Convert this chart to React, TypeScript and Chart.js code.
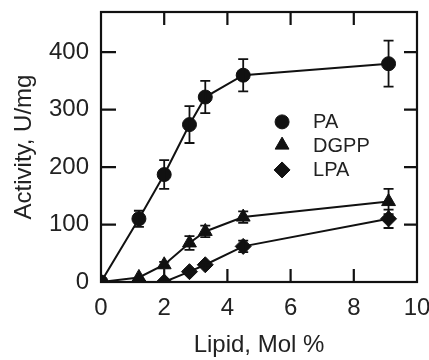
import React, { useEffect, useRef } from "react";
import { Chart, registerables } from "chart.js";
import { drawPoint } from "chart.js/helpers";

Chart.register(...registerables);

const LIPID = [0, 1.2, 2, 2.8, 3.3, 4.5, 9.1];
const PA = [0, 110, 187, 274, 322, 360, 380];
const PA_ERR = [0, 14, 25, 32, 28, 28, 40];
const DGPP = [0, 8, 30, 68, 88, 113, 140];
const DGPP_ERR = [0, 0, 5, 12, 10, 10, 22];
const LPA = [0, 0, 0, 18, 30, 62, 110];
const LPA_ERR = [0, 0, 0, 4, 4, 10, 16];
const SERIES = ["PA", "DGPP", "LPA"];
const X_TICKS = [0, 2, 4, 6, 8, 10];
const Y_TICKS = [0, 100, 200, 300, 400];

const INK = "#111111";
const FONT = "'Liberation Sans', Arial, Helvetica, sans-serif";

const errorBars = {
  id: "errorBars",
  afterDatasetsDraw(chart: any) {
    const ctx = chart.ctx;
    const xs = chart.scales.x;
    const ys = chart.scales.y;
    ctx.save();
    ctx.strokeStyle = INK;
    ctx.lineWidth = 1.8;
    chart.data.datasets.forEach((ds: any) => {
      const errs: number[] = ds.errors || [];
      ds.data.forEach((p: any, i: number) => {
        const e = errs[i];
        if (!e) return;
        const x = xs.getPixelForValue(p.x);
        const y1 = ys.getPixelForValue(p.y + e);
        const y2 = ys.getPixelForValue(p.y - e);
        ctx.beginPath();
        ctx.moveTo(x, y1);
        ctx.lineTo(x, y2);
        ctx.moveTo(x - 5, y1);
        ctx.lineTo(x + 5, y1);
        ctx.moveTo(x - 5, y2);
        ctx.lineTo(x + 5, y2);
        ctx.stroke();
      });
    });
    ctx.restore();
  },
};

const frame = {
  id: "frame",
  afterDraw(chart: any) {
    const ctx = chart.ctx;
    const { left, right, top, bottom } = chart.chartArea;
    const xs = chart.scales.x;
    const ys = chart.scales.y;
    ctx.save();
    ctx.strokeStyle = INK;
    ctx.lineWidth = 2.2;
    ctx.strokeRect(left, top, right - left, bottom - top);
    ctx.beginPath();
    X_TICKS.forEach((v) => {
      if (v === X_TICKS[0] || v === X_TICKS[X_TICKS.length - 1]) return;
      const x = xs.getPixelForValue(v);
      ctx.moveTo(x, bottom);
      ctx.lineTo(x, bottom - 13);
      ctx.moveTo(x, top);
      ctx.lineTo(x, top + 13);
    });
    Y_TICKS.forEach((v) => {
      if (v === 0) return;
      const y = ys.getPixelForValue(v);
      ctx.moveTo(left, y);
      ctx.lineTo(left + 15, y);
      ctx.moveTo(right, y);
      ctx.lineTo(right - 13, y);
    });
    ctx.stroke();
    ctx.restore();
  },
};

const innerLegend = {
  id: "innerLegend",
  afterDraw(chart: any) {
    const ctx = chart.ctx;
    const { left, right, top, bottom } = chart.chartArea;
    const w = right - left;
    const h = bottom - top;
    const mx = left + 0.573 * w;
    const tx = left + 0.671 * w;
    const rows = [0.407, 0.493, 0.585];
    ctx.save();
    chart.data.datasets.forEach((ds: any, i: number) => {
      const y = top + rows[i] * h;
      ctx.fillStyle = INK;
      ctx.strokeStyle = INK;
      ctx.lineWidth = 1;
      drawPoint(ctx, { pointStyle: ds.pointStyle, radius: ds.pointRadius, borderWidth: 1, rotation: 0 } as any, mx, y);
      ctx.fillStyle = "#222222";
      ctx.font = `20px ${FONT}`;
      ctx.textBaseline = "middle";
      ctx.textAlign = "left";
      ctx.fillText(ds.label, tx, y + 1);
    });
    ctx.restore();
  },
};

function pts(ys: number[]) {
  return LIPID.map((x, i) => ({ x, y: ys[i] }));
}

export default function App() {
  const ref = useRef<HTMLCanvasElement | null>(null);
  useEffect(() => {
    if (!ref.current) return;
    const mk = (label: string, ys: number[], errs: number[], style: string, r: number) => ({
      label,
      data: pts(ys),
      errors: errs,
      borderColor: INK,
      backgroundColor: INK,
      borderWidth: 2,
      pointStyle: style,
      pointRadius: r,
      pointBorderWidth: 1,
      pointBackgroundColor: INK,
      pointBorderColor: INK,
      tension: 0,
    });
    const chart = new Chart(ref.current, {
      type: "line",
      data: {
        datasets: [
          mk(SERIES[0], PA, PA_ERR, "circle", 7),
          mk(SERIES[1], DGPP, DGPP_ERR, "triangle", 8),
          mk(SERIES[2], LPA, LPA_ERR, "rectRot", 8),
        ] as any,
      },
      options: {
        animation: false,
        responsive: true,
        maintainAspectRatio: false,
        layout: { padding: { top: 12, right: 12, left: 0, bottom: 0 } },
        plugins: { legend: { display: false }, tooltip: { enabled: false } },
        scales: {
          x: {
            type: "linear",
            min: 0,
            max: 10,
            afterBuildTicks: (s: any) => {
              s.ticks = X_TICKS.map((v) => ({ value: v }));
            },
            afterFit: (s: any) => {
              s.height = 78;
              s.paddingLeft = 0;
              s.paddingRight = 0;
            },
            grid: { display: false, drawTicks: false },
            border: { display: false },
            ticks: { color: "#222", font: { family: FONT, size: 24 }, padding: 12, maxRotation: 0, autoSkip: false },
            title: {
              display: true,
              text: "Lipid, Mol %",
              color: "#222",
              font: { family: FONT, size: 24 },
              padding: { top: 0, bottom: 0 },
            },
          },
          y: {
            type: "linear",
            min: 0,
            max: 470,
            afterBuildTicks: (s: any) => {
              s.ticks = Y_TICKS.map((v) => ({ value: v }));
            },
            afterFit: (s: any) => {
              s.width = 101;
              s.paddingTop = 0;
              s.paddingBottom = 0;
            },
            grid: { display: false, drawTicks: false },
            border: { display: false },
            ticks: { color: "#222", font: { family: FONT, size: 24 }, padding: 12, autoSkip: false },
            title: {
              display: true,
              text: "Activity, U/mg",
              color: "#222",
              font: { family: FONT, size: 24 },
              padding: { top: 10, bottom: 0 },
            },
          },
        },
      } as any,
      plugins: [errorBars, frame, innerLegend],
    });
    return () => chart.destroy();
  }, []);
  return (
    <div style={{ position: "fixed", left: 0, top: 0, width: 429, height: 360 }}>
      <canvas ref={ref} />
    </div>
  );
}
